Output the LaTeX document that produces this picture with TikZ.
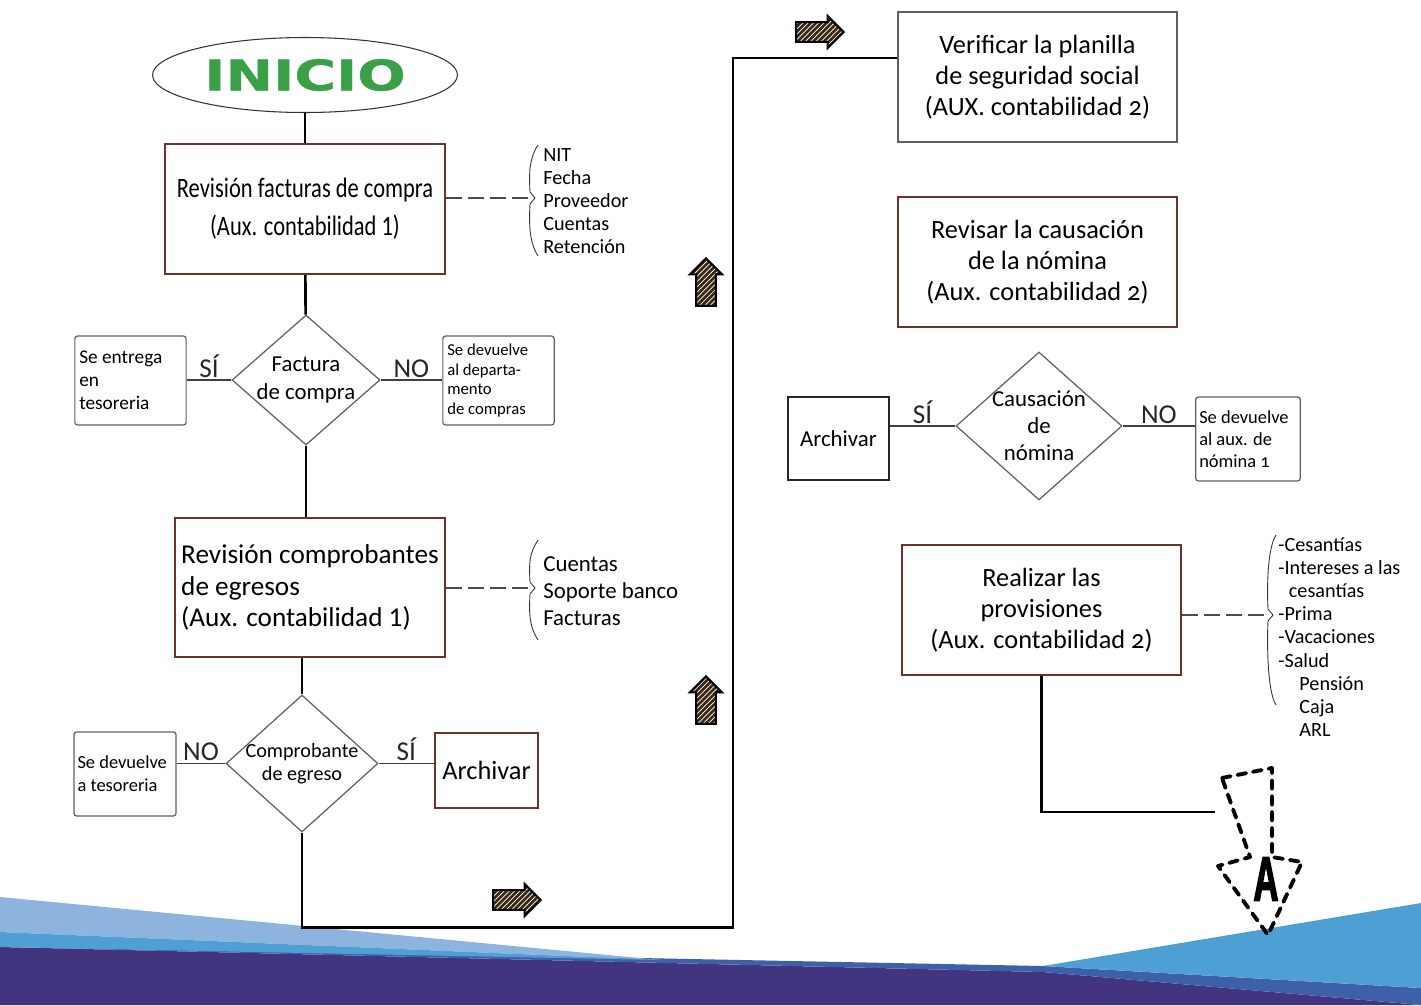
\documentclass[tikz,border=0pt]{standalone}
\usepackage{fontspec}
\setmainfont{Carlito}
\newfontfamily\narrowfont[FakeStretch=0.8]{Carlito}
\newfontfamily\heavyfont[FakeStretch=1.35,FakeBold=1]{DejaVu Sans}
\newfontfamily\impactfont[FakeStretch=0.55,FakeBold=2]{Liberation Sans}
\usetikzlibrary{shapes.geometric, shapes.arrows, patterns}

\definecolor{boxbrown}{RGB}{110,50,40}
\definecolor{inigreen}{RGB}{58,160,72}
\definecolor{edgegray}{RGB}{95,95,95}
\definecolor{wavelight}{RGB}{141,180,222}
\definecolor{wavesky}{RGB}{78,160,212}
\definecolor{wavemid}{RGB}{62,96,168}
\definecolor{wavedark}{RGB}{67,52,127}

% brace in front of a list: x, top, middle, bottom (pixels)
\newcommand{\listbrace}[4]{%
  \draw[bracestyle] (#1+9,#2) .. controls (#1,#2+14) and (#1,#3-25) .. (#1+1,#3-6)
    -- (#1+6,#3) -- (#1+1,#3+6) .. controls (#1,#3+25) and (#1,#4-14) .. (#1+9,#4);}

\begin{document}
\begin{tikzpicture}[x=0.02cm, y=-0.02cm,
    mainbox/.style={draw=boxbrown, line width=1.1pt, minimum width=5.6cm, minimum height=2.6cm,
      align=center, font=\fontsize{15}{17.6}\selectfont},
    greybox/.style={mainbox, draw=edgegray, line width=0.8pt},
    smallbox/.style={draw=edgegray, line width=0.7pt, rounded corners=1.5pt, align=flush left,
      inner sep=2.5pt, text width=1.95cm, minimum height=1.7cm, font=\fontsize{11}{13}\selectfont},
    decision/.style={diamond, draw=edgegray, line width=0.7pt, inner sep=0pt},
    dtext/.style={align=center, font=\fontsize{13}{15.5}\selectfont},
    yesno/.style={above, inner sep=1pt, text=black!85, font=\fontsize{15.5}{15.5}\selectfont},
    listtext/.style={anchor=west, align=left, inner sep=0pt, font=\fontsize{11.5}{13.2}\selectfont},
    flow/.style={line width=1.5pt, black},
    link/.style={line width=0.7pt, black!75},
    dashline/.style={line width=0.6pt, black!70, dash pattern=on 9pt off 3.5pt},
    bracestyle/.style={line width=0.5pt, black!80},
    hatcharrow/.style={single arrow, draw=black, line width=1.2pt, preaction={fill=black!70!brown},
      pattern=north east lines, pattern color=white, minimum height=0.95cm, inner sep=5pt,
      single arrow head extend=3.5pt},
    connA/.style={line width=2.2pt, dash pattern=on 5pt off 4pt, line cap=round, line join=round}
  ]
  \useasboundingbox (0,0) rectangle (1421,1005);

  % waves at the bottom
  \fill[wavedark] (0,947) -- (1043,972) -- (1421,1005) -- (0,1005) -- cycle;
  \fill[wavemid] (0,947) -- (640,958) -- (1043,966) -- (1421,988) -- (1421,1005) -- (1043,972) -- cycle;
  \fill[wavesky] (1043,966) -- (1421,903) -- (1421,988) -- cycle;
  \fill[wavelight] (0,897) -- (660,960) -- (0,932) -- cycle;
  \fill[wavesky] (0,932) -- (660,960) -- (0,947) -- cycle;

  % left column
  \node[ellipse, draw=black!80, line width=0.6pt, minimum width=6.1cm, minimum height=1.5cm,
    text=inigreen, font=\heavyfont\bfseries\fontsize{24}{24}\selectfont] (inicio) at (305,75) {INICIO};
  \node[mainbox, font=\narrowfont\fontsize{16}{21.5}\selectfont] (revfac) at (305,209)
    {Revisión facturas de compra\\(Aux. contabilidad 1)};
  \node[listtext] (listfac) at (543,201) {NIT\\Fecha\\Proveedor\\Cuentas\\Retención};
  \coordinate (bfac) at (529,198);

  \node[decision, minimum width=2.96cm, minimum height=2.6cm,
    label={[dtext]center:{Factura\\de compra}}] (fac) at (306,380) {};
  \node[smallbox, text width=2.05cm, minimum height=1.78cm] (entrega) at (130.5,380.5)
    {Se entrega\\en\\tesoreria};
  \node[smallbox, text width=2.05cm, minimum height=1.78cm, font=\fontsize{9.5}{11.2}\selectfont]
    (devcomp) at (498.5,380.5) {Se devuelve\\al departa-\\mento\\de compras};

  \node[mainbox, minimum width=5.4cm, minimum height=2.78cm, align=left,
    font=\fontsize{15.5}{17.8}\selectfont] (revcomp) at (310,587.5)
    {Revisión comprobantes\\de egresos\\(Aux. contabilidad 1)};
  \node[listtext, font=\fontsize{13}{15.4}\selectfont] (listcomp) at (543,591)
    {Cuentas\\Soporte banco\\Facturas};
  \coordinate (bcomp) at (529,588);

  \node[decision, minimum width=3.04cm, minimum height=2.74cm,
    label={[dtext, font=\fontsize{11.5}{13.2}\selectfont]center:{Comprobante\\de egreso}}] (cmp) at (302,763.5) {};
  \node[smallbox, text width=1.9cm, minimum height=1.68cm, inner sep=2pt,
    font=\fontsize{10.5}{13}\selectfont] (devtes) at (125,774)
    {Se devuelve\\a tesoreria\\[3pt]};
  \node[mainbox, minimum width=2.06cm, minimum height=1.5cm, line width=0.9pt] (arch1) at (486.5,770.5)
    {Archivar};

  % right column
  \node[greybox, minimum width=5.58cm, font=\fontsize{15}{17.6}\selectfont\addfontfeatures{Numbers=OldStyle}]
    (verif) at (1037.5,77) {Verificar la planilla\\de seguridad social\\(AUX. contabilidad 2)};
  \node[mainbox, minimum width=5.58cm, font=\fontsize{15}{17.6}\selectfont\addfontfeatures{Numbers=OldStyle}]
    (causa) at (1037.5,262) {Revisar la causación\\de la nómina\\(Aux. contabilidad 2)};

  \node[decision, minimum width=3.32cm, minimum height=2.96cm,
    label={[dtext, font=\fontsize{13}{15.4}\selectfont]center:{Causación\\de\\nómina}}] (caus) at (1039,426) {};
  \node[draw=black!85, line width=0.7pt, minimum width=2.02cm, minimum height=1.66cm,
    font=\fontsize{13}{13}\selectfont] (arch2) at (838.5,438.5) {Archivar};
  \node[smallbox, text width=1.95cm, minimum height=1.68cm, inner sep=2pt,
    font=\fontsize{10.5}{12.5}\selectfont\addfontfeatures{Numbers=OldStyle}] (devnom) at (1248,439)
    {Se devuelve\\al aux. de\\nómina 1};

  \node[mainbox, minimum width=5.58cm, font=\fontsize{15}{17.6}\selectfont\addfontfeatures{Numbers=OldStyle}]
    (prov) at (1041.5,610) {Realizar las\\provisiones\\(Aux. contabilidad 2)};
  \node[listtext] (listprov) at (1278,637)
    {-Cesantías\\-Intereses a las\\\hspace*{6pt}cesantías\\-Prima\\-Vacaciones\\-Salud\\
     \hspace*{12pt}Pensión\\\hspace*{12pt}Caja\\\hspace*{12pt}ARL};
  \coordinate (bprov) at (1267,615);

  % connector A
  \draw[connA] (1222,778) -- (1272,768) -- (1272,857) -- (1302,862) -- (1268,935)
    -- (1218,866) -- (1250,857) -- cycle;
  \node[font=\impactfont\bfseries\fontsize{36}{36}\selectfont] (letA) at (1266,879) {A};
  \coordinate (aend) at (1215,812);

  % hatched arrows
  \node[hatcharrow] (arrR1) at (815,32) {};
  \node[hatcharrow, shape border rotate=90] (arrU1) at (706,287) {};
  \node[hatcharrow, shape border rotate=90] (arrU2) at (706,705) {};
  \node[hatcharrow] (arrR2) at (512,900) {};

  % connectors
  \draw[flow] (inicio) -- (revfac);
  \draw[flow] (revfac) -- (fac);
  \draw[flow] (fac.south) -- (fac.south |- revcomp.north);
  \draw[flow] (cmp.north |- revcomp.south) -- (cmp.north);
  \coordinate (turn) at (733,58);
  \draw[flow] (cmp.south) -- ++(0,95) -| (turn) -- (turn -| verif.west);
  \draw[flow] (prov.south) |- (aend);

  \draw[link] (fac.west) -- node[yesno] {SÍ} (fac.west -| entrega.east);
  \draw[link] (fac.east) -- node[yesno] {NO} (fac.east -| devcomp.west);
  \draw[link] (cmp.west) -- node[yesno] {NO} (cmp.west -| devtes.east);
  \draw[link] (cmp.east) -- node[yesno] {SÍ} (cmp.east -| arch1.west);
  \draw[link] (caus.west) -- node[yesno] {SÍ} (caus.west -| arch2.east);
  \draw[link] (caus.east) -- node[yesno] {NO} (caus.east -| devnom.west);

  \draw[dashline] (revfac.east |- bfac) -- (bfac);
  \draw[dashline] (revcomp.east |- bcomp) -- (bcomp);
  \draw[dashline] (prov.east |- bprov) -- (bprov);
  \listbrace{529}{145}{198}{256}
  \listbrace{529}{540}{588}{640}
  \listbrace{1267}{535}{615}{705}
\end{tikzpicture}
\end{document}
